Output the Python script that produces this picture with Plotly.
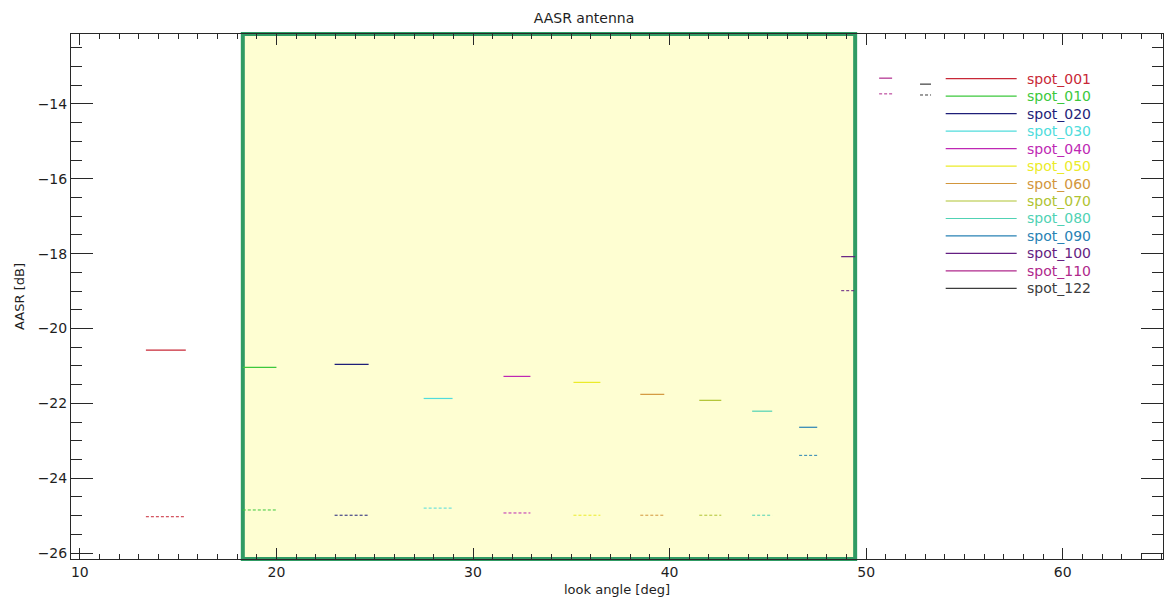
import plotly.graph_objects as go

# ---- data ----
spots = ["spot_001", "spot_010", "spot_020", "spot_030", "spot_040", "spot_050", "spot_060",
         "spot_070", "spot_080", "spot_090", "spot_100", "spot_110", "spot_122"]
colors = ["rgb(200,40,55)", "rgb(60,200,60)", "rgb(30,30,120)", "rgb(80,220,220)",
          "rgb(190,40,180)", "rgb(235,235,40)", "rgb(210,150,60)", "rgb(175,195,50)",
          "rgb(80,210,180)", "rgb(40,130,180)", "rgb(100,30,130)", "rgb(175,40,140)",
          "rgb(60,60,60)"]
x_start = [13.36, 18.29, 22.96, 27.49, 31.55, 35.11, 38.51, 41.51, 44.20, 46.59, 48.73, 50.66, 52.74]
x_end = [15.39, 20.00, 24.69, 28.96, 32.92, 36.48, 39.73, 42.63, 45.22, 47.51, 49.44, 51.32, 53.30]
aasr_solid = [-20.58, -21.04, -20.96, -21.87, -21.28, -21.44, -21.76, -21.92, -22.21, -22.64,
              -18.08, -13.31, -13.47]
aasr_dashed = [-25.03, -24.85, -24.99, -24.80, -24.93, -24.99, -24.99, -24.99, -24.99, -23.39,
               -18.99, -13.73, -13.76]
box_x = [18.29, 49.44]
x_range = [9.55, 65.1]
y_range = [-26.16, -12.13]

fig = go.Figure()

for name, c, xs, xe, ys, yd in zip(spots, colors, x_start, x_end, aasr_solid, aasr_dashed):
    fig.add_trace(go.Scatter(x=[xs, xe], y=[ys, ys], mode="lines", name=name,
                             line=dict(color=c, width=1.2), showlegend=False))
    fig.add_trace(go.Scatter(x=[xs, xe], y=[yd, yd], mode="lines", name=name + " (dashed)",
                             line=dict(color=c, width=1, dash="3px,2px"), showlegend=False))

# highlighted region
fig.add_shape(type="rect", xref="x", yref="paper", x0=box_x[0], x1=box_x[1], y0=0, y1=1,
              fillcolor="rgb(254,254,210)", line=dict(color="rgb(48,155,100)", width=4),
              layer="below")

# manual legend (IDL style)
for i, (name, c) in enumerate(zip(spots, colors)):
    yp = 0.915 - i * 0.0333
    fig.add_shape(type="line", xref="paper", yref="paper", x0=0.801, x1=0.866, y0=yp, y1=yp,
                  line=dict(color=c, width=1.2))
    fig.add_annotation(xref="paper", yref="paper", x=0.874, y=yp, text=name, showarrow=False,
                       xanchor="left", yanchor="middle",
                       font=dict(family="DejaVu Sans", size=14, color=c))

axis_common = dict(showline=True, linecolor="rgb(40,40,40)", linewidth=1, mirror="ticks",
                   ticks="inside", tickcolor="rgb(40,40,40)", showgrid=False, zeroline=False,
                   tickfont=dict(family="DejaVu Sans", size=14, color="rgb(30,30,30)"))

fig.update_xaxes(range=x_range, tick0=10, dtick=10, ticklen=11,
                 minor=dict(ticks="inside", dtick=1, ticklen=5, tickcolor="rgb(40,40,40)"),
                 title=dict(text="look angle [deg]", standoff=6,
                            font=dict(family="DejaVu Sans", size=13, color="rgb(30,30,30)")),
                 **axis_common)
fig.update_yaxes(range=y_range, tick0=-26, dtick=2, ticklen=22, tickformat="d",
                 minor=dict(ticks="inside", dtick=0.5, ticklen=11, tickcolor="rgb(40,40,40)"),
                 title=dict(text="AASR [dB]", standoff=10,
                            font=dict(family="DejaVu Sans", size=13, color="rgb(30,30,30)")),
                 **axis_common)

fig.update_layout(
    width=1168, height=605,
    margin=dict(l=71, r=5, t=34, b=46),
    paper_bgcolor="white", plot_bgcolor="white",
    title=dict(text="AASR antenna", x=0.5, xanchor="center", y=0.97, yanchor="middle",
               font=dict(family="DejaVu Sans", size=14, color="rgb(30,30,30)")),
    showlegend=False,
)

fig.write_html("out.html", config={"displayModeBar": False},
               post_script="document.body.style.margin='0';")
